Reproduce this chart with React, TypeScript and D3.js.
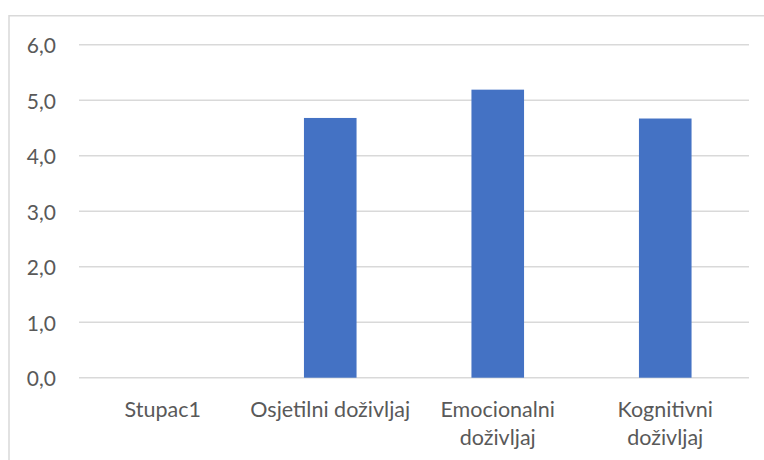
import React, { useEffect, useRef } from "react";
import * as d3 from "d3";

// category names and their wrapped axis labels
const categories = ["Stupac1", "Osjetilni doživljaj", "Emocionalni doživljaj", "Kognitivni doživljaj"];
const labelLines = [["Stupac1"], ["Osjetilni doživljaj"], ["Emocionalni", "doživljaj"], ["Kognitivni", "doživljaj"]];
const values: (number | null)[] = [null, 4.68, 5.19, 4.67];
const yTicks = [0, 1, 2, 3, 4, 5, 6];

const App: React.FC = () => {
  const svgRef = useRef<SVGSVGElement | null>(null);

  useEffect(() => {
    const width = 764;
    const height = 460;
    const margin = { top: 44.7, right: 15, bottom: 82.3, left: 79 };
    const font = "Lato, 'Open Sans', sans-serif";

    const svg = d3.select(svgRef.current);
    svg.selectAll("*").remove();

    // outer chart border (clipped by the page on the right and bottom)
    svg
      .append("path")
      .attr("d", `M9,${height + 2}V15.7H${width + 2}`)
      .attr("fill", "none")
      .attr("stroke", "#d9d9d9")
      .attr("stroke-width", 1.5);

    const xScale = d3
      .scaleBand()
      .domain(categories)
      .range([margin.left, width - margin.right])
      .padding(0);

    const yScale = d3
      .scaleLinear()
      .domain([0, 6])
      .range([height - margin.bottom, margin.top]);

    // gridlines
    svg
      .append("g")
      .selectAll("line")
      .data(yTicks)
      .join("line")
      .attr("x1", margin.left)
      .attr("x2", width - margin.right)
      .attr("y1", (d) => yScale(d))
      .attr("y2", (d) => yScale(d))
      .attr("stroke", "#d9d9d9")
      .attr("stroke-width", 1.5);

    // y tick labels
    svg
      .append("g")
      .selectAll("text")
      .data(yTicks)
      .join("text")
      .attr("x", 56)
      .attr("y", (d) => yScale(d) + 8.5)
      .attr("text-anchor", "end")
      .attr("font-family", font)
      .attr("font-size", 21)
      .attr("fill", "#595959")
      .text((d) => d3.format(".1f")(d).replace(".", ","));

    // bars
    const barWidth = xScale.bandwidth() * 0.314;
    svg
      .append("g")
      .selectAll("rect")
      .data(categories.map((c, i) => ({ c, v: values[i] })).filter((d) => d.v !== null))
      .join("rect")
      .attr("x", (d) => xScale(d.c)! + xScale.bandwidth() / 2 - barWidth / 2)
      .attr("y", (d) => yScale(d.v as number))
      .attr("width", barWidth)
      .attr("height", (d) => yScale(0) - yScale(d.v as number))
      .attr("fill", "#4472c4");

    // x labels
    const labels = svg
      .append("g")
      .selectAll("text")
      .data(categories)
      .join("text")
      .attr("x", (d) => xScale(d)! + xScale.bandwidth() / 2)
      .attr("y", 416.5)
      .attr("text-anchor", "middle")
      .attr("font-family", font)
      .attr("font-size", 21.5)
      .attr("fill", "#595959");

    labels
      .selectAll("tspan")
      .data((d, i) => labelLines[i])
      .join("tspan")
      .attr("x", function () {
        return (this.parentNode as SVGTextElement).getAttribute("x");
      })
      .attr("dy", (d, i) => (i === 0 ? 0 : 28))
      .text((d) => d);
  }, []);

  return (
    <svg
      ref={svgRef}
      width={764}
      height={460}
      style={{ position: "absolute", left: 0, top: 0, background: "#fff" }}
    />
  );
};

export default App;
